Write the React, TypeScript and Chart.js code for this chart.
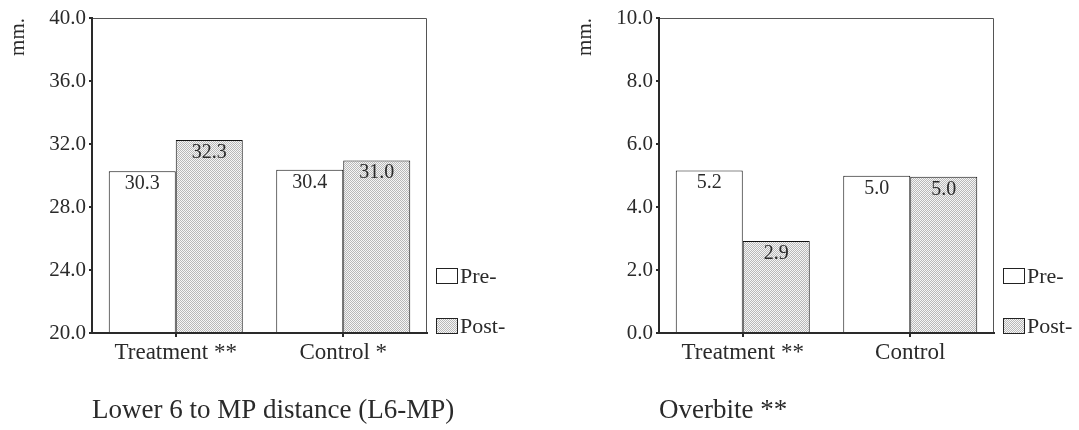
import React, { useEffect, useRef } from 'react';
import { Chart, registerables } from 'chart.js';

Chart.register(...registerables);

// ---- data ----
const seriesNames = ['Pre-', 'Post-'];
const yUnit = 'mm.';

const l6Categories = ['Treatment **', 'Control *'];
const l6Pre = [30.27, 30.36];
const l6Post = [32.26, 30.96];
const l6Title = 'Lower 6 to MP distance (L6-MP)';
const l6Min = 20;
const l6Max = 40;
const l6Step = 4;

const obCategories = ['Treatment **', 'Control'];
const obPre = [5.16, 4.99];
const obPost = [2.92, 4.96];
const obTitle = 'Overbite **';
const obMin = 0;
const obMax = 10;
const obStep = 2;

const FONT = '"Liberation Serif", "Times New Roman", serif';
const INK = '#2a2a2a';

function makePattern(ctx: CanvasRenderingContext2D) {
  const c = document.createElement('canvas');
  c.width = 2;
  c.height = 2;
  const p = c.getContext('2d')!;
  p.fillStyle = '#f6f6f6';
  p.fillRect(0, 0, 2, 2);
  p.fillStyle = '#b8b8b8';
  p.fillRect(0, 0, 1, 1);
  p.fillRect(1, 1, 1, 1);
  return ctx.createPattern(c, 'repeat')!;
}

type PanelProps = {
  categories: string[];
  pre: number[];
  post: number[];
  title: string;
  min: number;
  max: number;
  step: number;
  width: number;
  left: number;
};

function Panel({ categories, pre, post, title, min, max, step, width, left }: PanelProps) {
  const ref = useRef<HTMLCanvasElement | null>(null);

  useEffect(() => {
    const canvas = ref.current!;
    const ctx0 = canvas.getContext('2d')!;
    const pattern = makePattern(ctx0);
    const plotRight = 427;

    const overlay = {
      id: 'overlay',
      afterDatasetsDraw(chart: any) {
        const { ctx, chartArea } = chart;
        ctx.save();
        // frame (top & right)
        ctx.strokeStyle = '#555';
        ctx.lineWidth = 1;
        ctx.beginPath();
        ctx.moveTo(chartArea.left, Math.round(chartArea.top) + 0.5);
        ctx.lineTo(Math.round(chartArea.right) - 0.5, Math.round(chartArea.top) + 0.5);
        ctx.lineTo(Math.round(chartArea.right) - 0.5, chartArea.bottom);
        ctx.stroke();

        // value labels
        ctx.font = `20px ${FONT}`;
        ctx.fillStyle = INK;
        ctx.textAlign = 'center';
        ctx.textBaseline = 'alphabetic';
        chart.data.datasets.forEach((ds: any, i: number) => {
          chart.getDatasetMeta(i).data.forEach((bar: any, j: number) => {
            ctx.fillText(Number(ds.data[j]).toFixed(1), bar.x, bar.y + 18);
          });
        });

        // legend
        const n = chart.data.datasets.length;
        chart.data.datasets.forEach((ds: any, i: number) => {
          const bottom = Math.round(chartArea.bottom) - 50 * (n - 1 - i);
          const x = Math.round(chartArea.right) + 9;
          ctx.fillStyle = ds.backgroundColor;
          ctx.fillRect(x, bottom - 15, 21, 15);
          ctx.strokeStyle = '#222';
          ctx.lineWidth = 1;
          ctx.strokeRect(x + 0.5, bottom - 15 + 0.5, 21, 15);
          ctx.fillStyle = INK;
          ctx.font = `22px ${FONT}`;
          ctx.textAlign = 'left';
          ctx.textBaseline = 'alphabetic';
          ctx.fillText(ds.label, x + 24, bottom);
        });

        // chart caption below the axis
        ctx.fillStyle = INK;
        ctx.font = `27px ${FONT}`;
        ctx.textAlign = 'left';
        ctx.textBaseline = 'alphabetic';
        ctx.fillText(title, chartArea.left, 418);
        ctx.restore();
      },
    };

    const chart = new Chart(canvas, {
      type: 'bar',
      data: {
        labels: categories,
        datasets: [
          {
            label: seriesNames[0],
            data: pre,
            backgroundColor: '#ffffff',
            borderColor: '#111',
            borderWidth: 1,
            barPercentage: 1,
            categoryPercentage: 0.8,
          },
          {
            label: seriesNames[1],
            data: post,
            backgroundColor: pattern as any,
            borderColor: '#111',
            borderWidth: 1,
            barPercentage: 1,
            categoryPercentage: 0.8,
          },
        ],
      },
      options: {
        responsive: false,
        animation: false,
        devicePixelRatio: 1,
        layout: { padding: { left: 0, top: 18, right: width - plotRight, bottom: 0 } },
        plugins: {
          legend: { display: false },
          title: { display: false },
          tooltip: { enabled: false },
        },
        scales: {
          x: {
            type: 'category',
            offset: true,
            grid: {
              offset: false,
              drawOnChartArea: false,
              drawTicks: true,
              tickLength: 4,
              color: INK,
              lineWidth: 2,
            },
            border: { display: true, color: INK, width: 2, z: 1 },
            ticks: {
              font: { family: FONT, size: 23 },
              color: INK,
              padding: 2,
              maxRotation: 0,
              autoSkip: false,
            },
            afterFit: (s: any) => {
              s.height = 97;
            },
          },
          y: {
            min,
            max,
            ticks: {
              stepSize: step,
              callback: (v: any) => Number(v).toFixed(1),
              font: { family: FONT, size: 21 },
              color: INK,
              padding: 3,
            },
            grid: {
              drawOnChartArea: false,
              drawTicks: true,
              tickLength: 3,
              color: INK,
              lineWidth: 2,
            },
            border: { display: true, color: INK, width: 2, z: 1 },
            title: {
              display: true,
              text: yUnit,
              align: 'end',
              color: INK,
              font: { family: FONT, size: 21 },
              padding: { top: 6, bottom: 0 },
            },
            afterFit: (s: any) => {
              s.width = 92;
            },
          },
        },
      } as any,
      plugins: [overlay],
    });
    return () => chart.destroy();
  }, []);

  return (
    <canvas
      ref={ref}
      width={width}
      height={430}
      style={{ position: 'absolute', left, top: 0 }}
    />
  );
}

export default function App() {
  return (
    <div
      style={{
        position: 'absolute',
        left: 0,
        top: 0,
        width: 1079,
        height: 430,
        overflow: 'hidden',
        background: '#ffffff',
      }}
    >
      <Panel
        categories={l6Categories}
        pre={l6Pre}
        post={l6Post}
        title={l6Title}
        min={l6Min}
        max={l6Max}
        step={l6Step}
        width={567}
        left={0}
      />
      <Panel
        categories={obCategories}
        pre={obPre}
        post={obPost}
        title={obTitle}
        min={obMin}
        max={obMax}
        step={obStep}
        width={512}
        left={567}
      />
    </div>
  );
}
